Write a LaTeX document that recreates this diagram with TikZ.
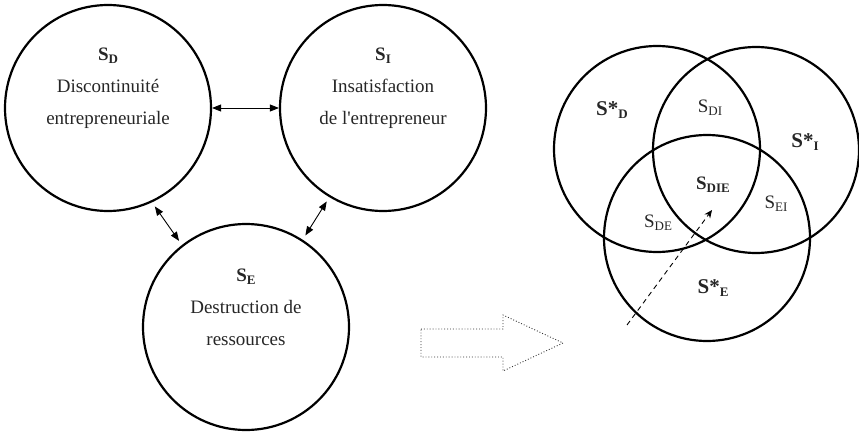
\documentclass[tikz,border=0pt]{standalone}
\usepackage{fontspec}
\setmainfont{Liberation Serif}
\usepackage{tikz}
\usetikzlibrary{arrows.meta, positioning, calc}

\newcommand{\subidx}[1]{\raisebox{-0.35ex}{\fontsize{13}{13}\selectfont #1}}

\begin{document}
\begin{tikzpicture}[x=1pt, y=-1pt,
  bigcirc/.style={draw, circle, line width=2.2pt, minimum size=206pt, inner sep=0pt},
  txt/.style={align=center, text=black!85, font=\fontsize{19}{32}\selectfont},
  lbl/.style={text=black!85, font=\fontsize{19}{22}\selectfont, inner sep=1pt},
  dbl/.style={<->, >={Triangle[length=9pt, width=7pt]}, line width=0.9pt, shorten <=5pt, shorten >=5pt},
  hollow/.style={dotted, line width=0.9pt, black!80},
]
\useasboundingbox (0,0) rectangle (859,433);

% Cercles
\node[bigcirc] (sd) at (108,108) {};
\node[bigcirc] (si) at (383,108) {};
\node[bigcirc] (se) at (246,327) {};

\node[txt] at ([yshift=20pt]sd.center) {\textbf{S\subidx{D}}\\Discontinuité\\entrepreneuriale};
\node[txt] at ([yshift=20pt]si.center) {\textbf{S\subidx{I}}\\Insatisfaction\\de l\textquotesingle entrepreneur};
\node[txt] at ([yshift=20pt]se.center) {\textbf{S\subidx{E}}\\Destruction de\\ressources};

% Flèches
\draw[dbl, shorten <=0pt, shorten >=0pt] (sd) -- (si);
\draw[dbl] (sd.-65) -- (se.128);
\draw[dbl] (si.239) -- (se.57);

% Grande flèche
\draw[hollow] (421,329) -- (503,329) -- (503,315) -- (563,343) -- (503,371) -- (503,357) -- (421,357) -- cycle;

% Diagramme
\node[bigcirc] (vd) at (657,149) {};
\node[bigcirc] (vi) at (756,150) {};
\node[bigcirc] (ve) at (707,238) {};

\node[lbl, font=\fontsize{21}{22}\selectfont\bfseries] (ld) at (612,110) {S*\subidx{D}};
\node[lbl] (ldi) at (710,108) {S\subidx{DI}};
\node[lbl, font=\fontsize{21}{22}\selectfont\bfseries] (li) at (805,142) {S*\subidx{I}};
\node[lbl, font=\fontsize{19}{22}\selectfont\bfseries] (ldie) at (713,185) {S\subidx{DIE}};
\node[lbl] (lei) at (776,204) {S\subidx{EI}};
\node[lbl] (lde) at (658,223) {S\subidx{DE}};
\node[lbl, font=\fontsize{21}{22}\selectfont\bfseries] (le) at (713,288) {S*\subidx{E}};

\coordinate (dstart) at (627,325);
\coordinate (dend) at (712,210);
\draw[dash pattern=on 5pt off 4pt, line width=0.9pt, -{Stealth[length=8pt, width=7pt]}] (dstart) -- (dend);
\end{tikzpicture}
\end{document}
